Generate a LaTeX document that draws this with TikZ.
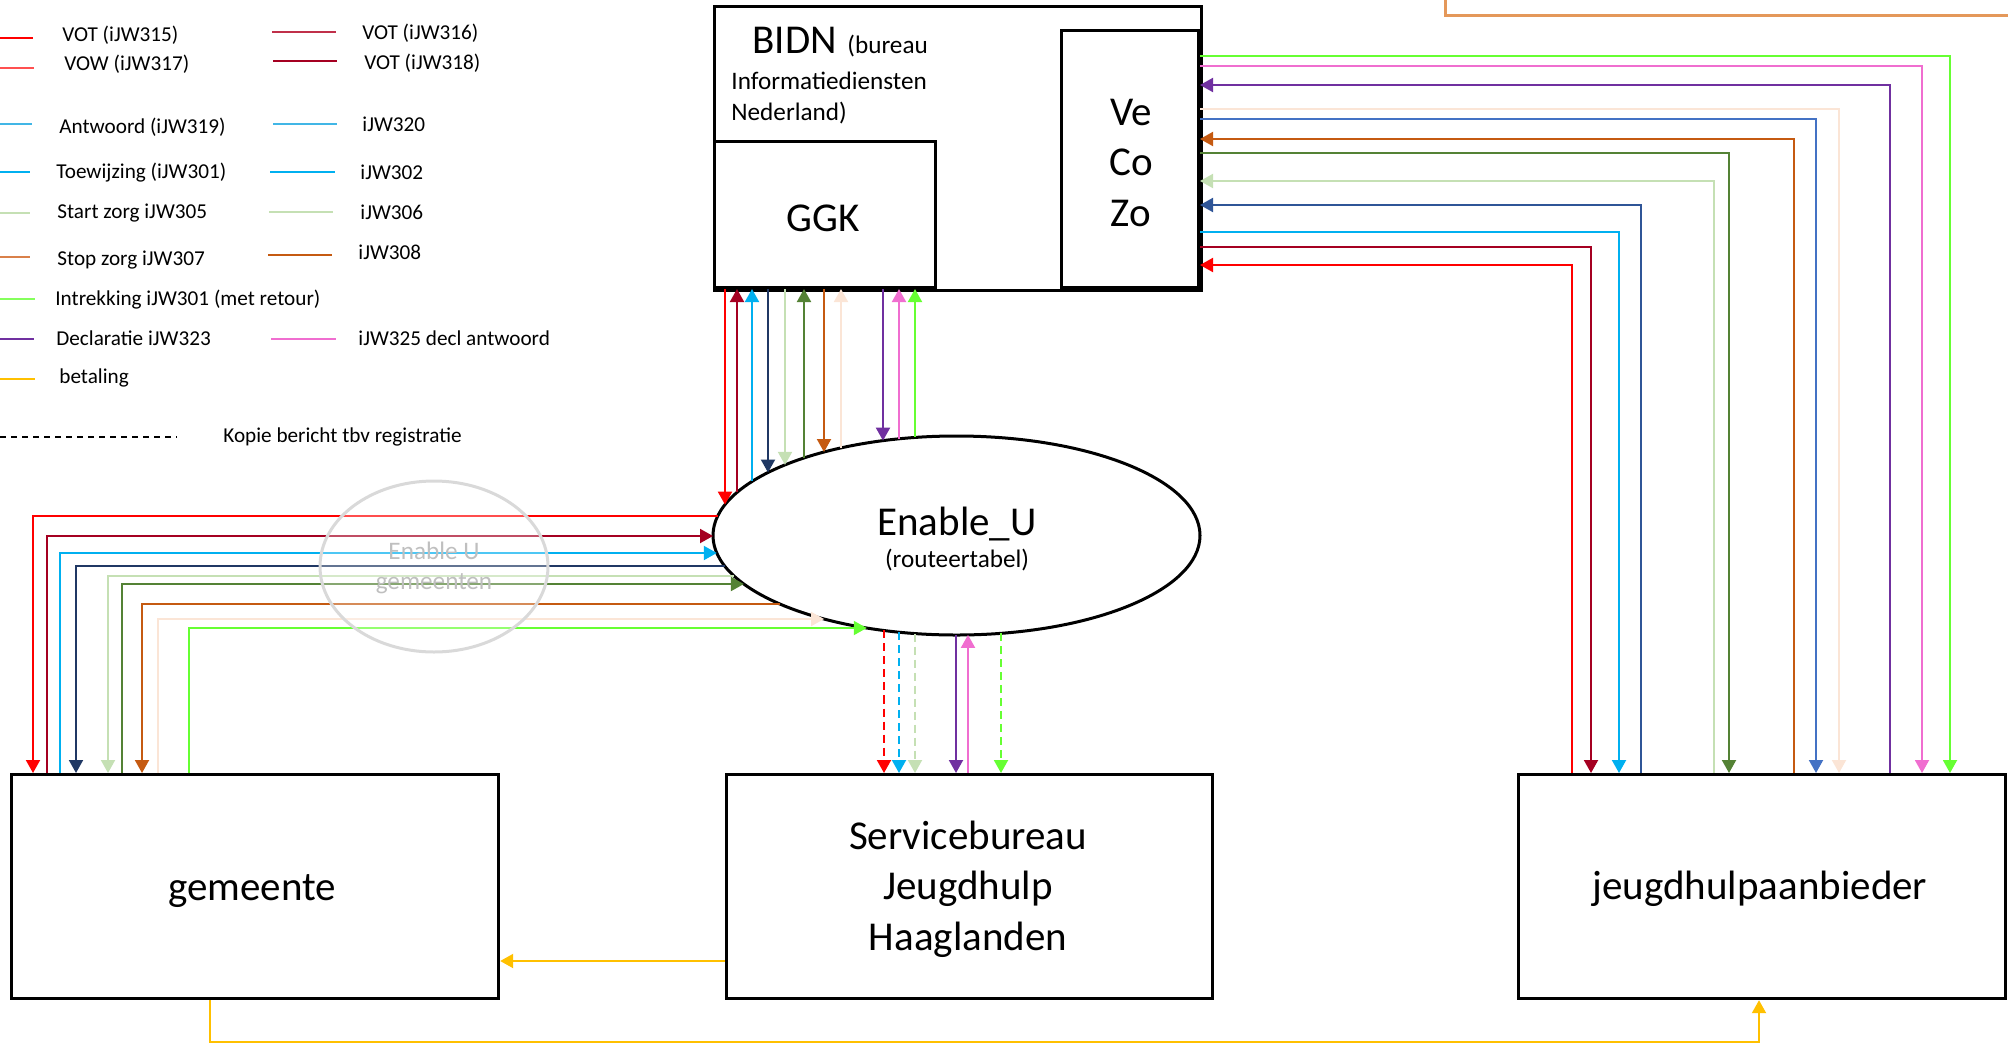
\documentclass[tikz,border=0pt]{standalone}
\usepackage{fontspec}
\setmainfont{Carlito}
\usetikzlibrary{arrows.meta,shapes.geometric}
\definecolor{cRed}{HTML}{FF0000}
\definecolor{cRedL}{HTML}{FF5050}
\definecolor{cDRed}{HTML}{A50021}
\definecolor{cDRedL}{HTML}{C0304A}
\definecolor{cLBlue}{HTML}{00B0F0}
\definecolor{cSky}{HTML}{41B6E6}
\definecolor{cNavy}{HTML}{203864}
\definecolor{cNavyB}{HTML}{2F5597}
\definecolor{cBlue}{HTML}{4472C4}
\definecolor{cLGreen}{HTML}{C5E0B4}
\definecolor{cGreen}{HTML}{548235}
\definecolor{cOrange}{HTML}{C55A11}
\definecolor{cOrangeL}{HTML}{D9804A}
\definecolor{cPeach}{HTML}{FBE5D6}
\definecolor{cPurple}{HTML}{7030A0}
\definecolor{cPink}{HTML}{F06ED0}
\definecolor{cBGreen}{HTML}{66FF33}
\definecolor{cYellow}{HTML}{FFC000}
\definecolor{cGrey}{HTML}{D9D9D9}
\definecolor{cGreyT}{HTML}{BFBFBF}
\definecolor{cOrangeBox}{HTML}{E4985A}
\begin{document}
\begin{tikzpicture}[x=0.5pt,y=-0.5pt,
  conn/.style={line width=1pt},
  tipend/.style={-{Triangle[length=6.5pt,width=7pt]}},
  tipstart/.style={{Triangle[length=6.5pt,width=7pt]}-},
  dsh/.style={dash pattern=on 4pt off 2.5pt},
  box/.style={draw,line width=1.6pt,inner sep=0pt,rectangle},
  bigtxt/.style={font=\fontsize{20.5}{24}\selectfont,inner sep=0pt},
  midtxt/.style={font=\fontsize{12.6}{15}\selectfont,inner sep=0pt},
  legtxt/.style={font=\fontsize{10.6}{12}\selectfont,inner sep=0pt,anchor=west},
  legline/.style={line width=1pt}]
\useasboundingbox (0,0) rectangle (2008,1045);

% ---------- boxes ----------
\node[box,minimum width=243.5pt,minimum height=142pt,anchor=north west] (bidn) at (713,5) {};
\node[box,minimum width=110.5pt,minimum height=73pt,anchor=south west] (ggk) at (713,289) {};
\node[box,minimum width=68.5pt,minimum height=128.5pt,anchor=south east] (vcz) at (1200,289) {};
\node[box,minimum width=243.5pt,minimum height=112pt,anchor=north west] (gem) at (10,773) {};
\node[box,minimum width=243pt,minimum height=112pt,anchor=north west] (sb) at (725,773) {};
\node[box,minimum width=243.5pt,minimum height=112pt,anchor=north west] (jha) at (1517,773) {};
\node[draw,ellipse,line width=1.5pt,minimum width=243.5pt,minimum height=99.5pt,inner sep=0pt] (eu) at (956.5,535.5) {};

% ---------- texts in boxes ----------
\node[bigtxt,anchor=base west] (tbidn) at (752,53) {BIDN};
\node[midtxt,anchor=base west] (tbur) at (847,53) {(bureau};
\node[midtxt,anchor=base west] (tinf) at (731,89) {Informatiediensten};
\node[midtxt,anchor=base west] (tned) at (731,120) {Nederland)};
\node[bigtxt,anchor=base] (tggk) at (823,231) {GGK};
\node[bigtxt,anchor=base] (tve) at (1131,125) {Ve};
\node[bigtxt,anchor=base] (tco) at (1131,175) {Co};
\node[bigtxt,anchor=base] (tzo) at (1131,226) {Zo};
\node[bigtxt,anchor=base] (teu) at (957,535) {Enable\_U};
\node[midtxt,anchor=base] (trt) at (957,567) {(routeertabel)};
\node[bigtxt,anchor=base] (tgem) at (252,900) {gemeente};
\node[bigtxt,anchor=base] (tsb1) at (968,849) {Servicebureau};
\node[bigtxt,anchor=base] (tsb2) at (968,899) {Jeugdhulp};
\node[bigtxt,anchor=base] (tsb3) at (968,950) {Haaglanden};
\node[bigtxt,anchor=base] (tjha) at (1760,899) {jeugdhulpaanbieder};

% ---------- GGK <-> Enable_U ----------
\foreach \x/\c/\s in {725/cRed/tipend,737/cDRed/tipstart,752/cLBlue/tipstart,768/cNavy/tipend,
  785/cLGreen/tipend,804/cGreen/tipstart,824/cOrange/tipend,841/cPeach/tipstart,
  883/cPurple/tipend,899/cPink/tipstart,915/cBGreen/tipstart}{
  \pgfmathsetmacro\ey{535.5-99.5*sqrt(1-((\x-956.5)/243.5)^2)}
  \draw[conn,\c,\s] (\x,0 |- ggk.south) -- (\x,\ey);
}

% ---------- Enable_U <-> Servicebureau ----------
\foreach \x/\c/\s/\d in {884/cRed/tipend/dsh,899/cLBlue/tipend/dsh,915/cLGreen/tipend/dsh,
  956/cPurple/tipend/solid,968/cPink/tipstart/solid,1001/cBGreen/tipend/dsh}{
  \pgfmathsetmacro\ey{535.5+99.5*sqrt(1-((\x-956.5)/243.5)^2)}
  \draw[conn,\c,\s,\d] (\x,\ey) -- (\x,0 |- sb.north);
}

% ---------- gemeente <-> Enable_U ----------
\foreach \x/\y/\c/\s in {33/516/cRed/tipstart,47/536/cDRed/tipend,60/553/cLBlue/tipend,
  76/566/cNavy/tipstart,108/576/cLGreen/tipstart,122/584/cGreen/tipend,
  142/604/cOrange/tipstart,158/619/cPeach/tipend,189/628/cBGreen/tipend}{
  \pgfmathsetmacro\ex{956.5-243.5*sqrt(1-((\y-535.5)/99.5)^2)}
  \draw[conn,\c,\s] (\x,0 |- gem.north) |- (\ex,\y);
}

% ---------- VeCoZo <-> jeugdhulpaanbieder ----------
\foreach \x/\y/\c/\s in {1950/56/cBGreen/tipend,1922/66/cPink/tipend,1890/85/cPurple/tipstart,
  1839/109/cPeach/tipend,1816/119/cBlue/tipend,1794/139/cOrange/tipstart,
  1729/153/cGreen/tipend,1714/181/cLGreen/tipstart,1641/205/cNavyB/tipstart,
  1619/232/cLBlue/tipend,1591/247/cDRed/tipend,1572/265/cRed/tipstart}{
  \draw[conn,\c,\s] (vcz.east |- 0,\y) -| (\x,0 |- jha.north);
}

% ---------- betaling ----------
\draw[conn,cYellow,tipend] (sb.west |- 0,961) -- (gem.east |- 0,961);
\coordinate (ybend) at (210,1042);
\draw[conn,cYellow,tipend] (210,0 |- gem.south) -- (ybend) -| (1759,0 |- jha.south);

% ---------- Enable U gemeenten (faded) ----------
\node[draw=cGrey,ellipse,line width=1.5pt,fill=white,fill opacity=0.3,
  minimum width=114pt,minimum height=85.5pt,inner sep=0pt] (eug) at (434,566.5) {};
\node[midtxt,anchor=base,text=cGreyT] (teug1) at (434,559) {Enable U};
\node[midtxt,anchor=base,text=cGreyT] (teug2) at (434,589) {gemeenten};

% ---------- top right box edge ----------
\draw[cOrangeBox,line width=1.5pt] (1445,0) |- (2010,15);

% ---------- legend ----------
\draw[legline,cRed] (0,38) -- (33,38);
\node[legtxt] (l1) at (62,35) {VOT (iJW315)};
\draw[legline,cRedL] (0,68) -- (34,68);
\node[legtxt] (l2) at (64,64) {VOW (iJW317)};
\draw[legline,cSky] (0,124) -- (32,124);
\node[legtxt] (l3) at (59,127) {Antwoord (iJW319)};
\draw[legline,cLBlue] (0,172) -- (30,172);
\node[legtxt] (l4) at (56,173) {Toewijzing (iJW301)};
\draw[legline,cLGreen] (0,213) -- (30,213);
\node[legtxt] (l5) at (57,213) {Start zorg iJW305};
\draw[legline,cOrangeL] (0,257) -- (30,257);
\node[legtxt] (l6) at (57,260) {Stop zorg iJW307};
\draw[legline,cBGreen!80!white] (0,299) -- (35,299);
\node[legtxt] (l7) at (55,300) {Intrekking iJW301 (met retour)};
\draw[legline,cPurple] (0,339) -- (34,339);
\node[legtxt] (l8) at (56,338) {Declaratie iJW323};
\draw[legline,cYellow] (0,379) -- (35,379);
\node[legtxt] (l9) at (59,378) {betaling};
\draw[legline,black,dash pattern=on 3pt off 2.5pt,line width=0.6pt] (0,437) -- (177,437);
\node[legtxt] (l10) at (223,437) {Kopie bericht tbv registratie};

\draw[legline,cDRedL] (272,32) -- (336,32);
\node[legtxt] (r1) at (362,33) {VOT (iJW316)};
\draw[legline,cDRed] (273,61) -- (337,61);
\node[legtxt] (r2) at (364,63) {VOT (iJW318)};
\draw[legline,cSky] (273,124) -- (337,124);
\node[legtxt] (r3) at (362,124) {iJW320};
\draw[legline,cLBlue] (270,172) -- (335,172);
\node[legtxt] (r4) at (360,172) {iJW302};
\draw[legline,cLGreen] (269,212) -- (333,212);
\node[legtxt] (r5) at (360,212) {iJW306};
\draw[legline,cOrange] (268,255) -- (332,255);
\node[legtxt] (r6) at (358,252) {iJW308};
\draw[legline,cPink] (271,339) -- (336,339);
\node[legtxt] (r7) at (358,338) {iJW325 decl antwoord};
\end{tikzpicture}
\end{document}
